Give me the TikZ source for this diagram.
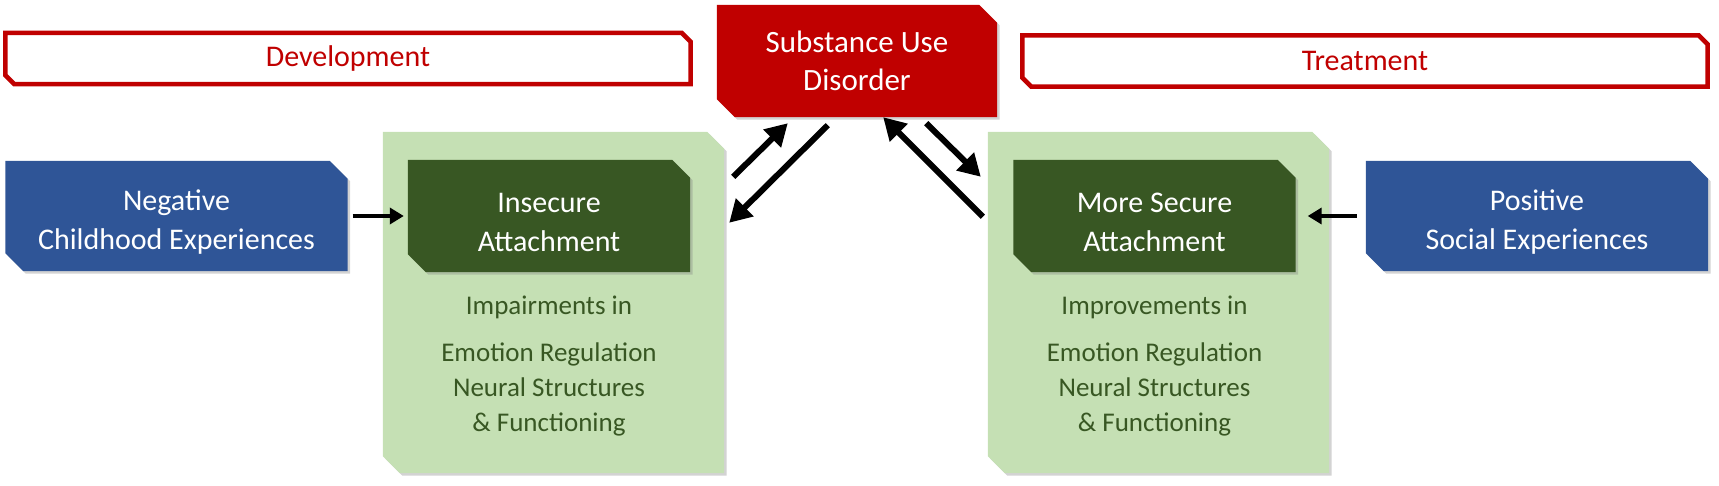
\documentclass[tikz,border=0pt]{standalone}
\usepackage{fontspec}
\setmainfont{Carlito}
\usepackage{tikz}
\usetikzlibrary{shadows,arrows.meta,backgrounds,positioning}
\definecolor{sudred}{HTML}{C00000}
\definecolor{expblue}{HTML}{2F5597}
\definecolor{attgreen}{HTML}{385723}
\definecolor{palegreen}{HTML}{C5E0B4}

% box outline with the north east and south west corners cut off
\newcommand\cutcorner[3][]{%
  \path[#1] (#2.north west) -- ([xshift=-#3]#2.north east) -- ([yshift=-#3]#2.north east)
    -- (#2.south east) -- ([xshift=#3]#2.south west) -- ([yshift=#3]#2.south west) -- cycle;}
% extra room above the first line
\newcommand\topline{\rule{0pt}{33pt}}

\tikzset{
  shade/.style={drop shadow={shadow xshift=2.5pt, shadow yshift=-2.5pt, opacity=.35}},
  headbox/.style={rectangle, inner sep=0pt, text=sudred,
    minimum width=685pt, minimum height=51pt, font=\fontsize{30}{38}\selectfont},
  sudbox/.style={rectangle, inner sep=0pt, text=white, align=center,
    minimum width=280pt, minimum height=112pt, font=\fontsize{31}{38}\selectfont},
  expbox/.style={rectangle, inner sep=0pt, text=white, align=center,
    minimum width=342pt, minimum height=110pt, font=\fontsize{30}{39}\selectfont},
  attbox/.style={expbox, minimum width=282pt, minimum height=112pt},
  panel/.style={rectangle, inner sep=0pt, minimum width=341pt, minimum height=341pt},
  effect/.style={text=attgreen, align=center, inner sep=0pt, font=\fontsize{27}{35}\selectfont},
  hArrow/.style={line width=4pt, -{Triangle[length=14pt, width=16pt]}},
  dArrow/.style={line width=6pt, -{Triangle[length=22pt, width=24pt]}}
}

\begin{document}
\begin{tikzpicture}[x=1pt, y=1pt]

  \useasboundingbox (0,0) rectangle (1719,485);

  % top row
  \node[headbox] (dev) at (348,426.5) {Development};
  \node[headbox] (treat) at (1365,424) {Treatment};
  \node[sudbox] (sud) at (857,424) {Substance Use\\Disorder};

  % panels
  \node[panel] (panL) at (553.5,182.5) {};
  \node[panel] (panR) at (1158.5,182.5) {};

  \node[attbox] (attL) at (549,269) {\topline Insecure\\Attachment};
  \node[attbox] (attR) at (1154.5,269) {\topline More Secure\\Attachment};

  \node[effect, anchor=north] (effL) at (549,195.5)
    {\strut Impairments in\\[12pt] Emotion Regulation\\Neural Structures\\\& Functioning};
  \node[effect, anchor=north] (effR) at (1154.5,195.5)
    {\strut Improvements in\\[12pt] Emotion Regulation\\Neural Structures\\\& Functioning};

  % experiences
  \node[expbox] (negexp) at (176.5,269) {\topline Negative\\Childhood Experiences};
  \node[expbox] (posexp) at (1537,269) {\topline Positive\\Social Experiences};

  \begin{scope}[on background layer]
    \cutcorner[draw=sudred, line width=4.5pt, fill=white]{dev}{9pt}
    \cutcorner[draw=sudred, line width=4.5pt, fill=white]{treat}{9pt}
    \cutcorner[fill=sudred, shade]{sud}{18pt}
    \cutcorner[fill=palegreen, shade]{panL}{17pt}
    \cutcorner[fill=palegreen, shade]{panR}{17pt}
    \cutcorner[fill=attgreen, shade]{attL}{18pt}
    \cutcorner[fill=attgreen, shade]{attR}{18pt}
    \cutcorner[fill=expblue, shade]{negexp}{18pt}
    \cutcorner[fill=expblue, shade]{posexp}{18pt}
  \end{scope}

  \draw[hArrow, shorten <=5pt, shorten >=4pt] (negexp.east) -- (attL.west);
  \draw[hArrow, shorten <=9pt, shorten >=12pt] (posexp.west) -- (attR.east);

  % to and from the disorder
  \draw[dArrow] ([shift={(9,-45)}]panL.north east) -- ([shift={(71,-6)}]sud.south west);
  \draw[dArrow] ([shift={(111,-8)}]sud.south west) -- ([shift={(5,-91)}]panL.north east);
  \draw[dArrow] ([shift={(-5,-85)}]panR.north west) -- ([shift={(-114,0)}]sud.south east);
  \draw[dArrow] ([shift={(-71,-6)}]sud.south east) -- ([shift={(-7,-45)}]panR.north west);

\end{tikzpicture}
\end{document}
